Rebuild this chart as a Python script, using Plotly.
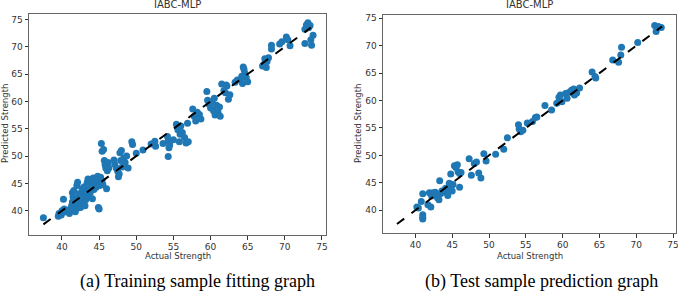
import plotly.graph_objects as go

W, H = 678, 292

# ---- data ----
train_actual = [37.5, 39.5, 39.6, 39.9, 40.0, 40.2, 40.3, 40.2, 40.7, 41.0, 41.1, 41.3, 41.4, 41.5, 41.4, 41.6,
                41.8, 41.9, 42.0, 42.0, 42.1, 42.2, 42.3,
                42.5, 42.6, 42.7, 42.8, 42.9, 43.0, 43.1, 43.2, 43.3, 43.4, 43.5, 43.6, 43.7, 43.8, 43.9, 44.0,
                44.1, 44.2, 44.3, 44.4, 44.5, 44.6, 44.8, 44.9, 45.0, 45.0, 45.1, 45.2, 45.4, 45.5,
                45.3, 45.4, 45.6, 45.7, 45.8, 45.9, 46.0, 46.1, 46.2, 46.3, 47.0, 47.1, 47.3, 47.5, 47.6, 47.7,
                47.8, 47.9, 48.0, 48.1, 48.3, 48.5, 48.7, 48.9, 49.4, 49.5, 50.0,
                50.9, 52.0, 52.5, 52.6, 53.6, 54.2, 54.3, 54.4, 54.3, 54.5, 55.0, 55.4, 55.6, 55.9, 56.0, 56.2,
                56.5, 56.7, 56.9, 57.0, 55.8, 57.6, 57.8, 58.0, 58.5, 58.7, 58.2,
                59.5, 59.6, 59.8, 60.0, 60.2, 60.4, 60.6, 60.8, 61.0, 61.2, 60.5, 61.3, 61.5, 61.8, 62.0, 62.2,
                62.4, 62.1, 62.6,
                63.3, 63.6, 64.0, 64.3, 64.4, 64.5, 64.6, 64.8, 65.0, 64.2, 67.0, 67.2, 67.5, 67.6, 67.8, 67.3,
                68.2, 68.2,
                69.3, 69.6, 70.2, 70.7, 70.4, 72.7, 72.9, 73.1, 73.2, 73.4, 72.7, 73.5, 73.6, 73.8]
train_pred = [38.7, 39.0, 39.5, 39.2, 40.0, 39.7, 40.3, 42.1, 39.9, 39.5, 40.3, 40.9, 41.6, 42.5, 43.3, 43.7,
              39.8, 41.0, 40.4, 44.6, 45.2, 42.2, 43.1,
              40.6, 41.7, 44.0, 42.5, 43.6, 44.4, 40.9, 42.0, 43.0, 45.2, 45.8, 42.5, 44.0, 43.3, 45.4, 44.8,
              42.2, 46.0, 43.9, 45.6, 45.0, 44.3, 46.3, 40.6, 40.3, 45.7, 44.6, 46.1, 45.5, 44.8,
              52.3, 50.9, 51.2, 49.2, 48.4, 47.8, 44.0, 47.3, 48.8, 47.8, 49.3, 48.5, 47.8, 47.2, 46.2, 46.7,
              50.6, 49.2, 51.0, 48.0, 49.6, 48.8, 50.0, 47.8, 52.6, 52.1, 50.5,
              51.1, 52.2, 52.7, 51.8, 52.3, 53.6, 52.7, 51.5, 49.9, 52.0, 53.0, 55.8, 54.8, 54.0, 55.5, 54.3,
              53.4, 52.4, 56.0, 52.6, 52.6, 58.6, 57.3, 56.4, 57.6, 56.8, 58.0,
              61.8, 60.2, 59.5, 58.8, 60.0, 58.3, 57.5, 59.3, 58.0, 59.0, 60.6, 57.3, 63.2, 62.0, 61.6, 62.8,
              60.4, 63.0, 61.2,
              63.5, 63.9, 64.0, 63.3, 66.3, 65.9, 65.2, 64.4, 63.6, 64.6, 66.5, 66.8, 66.2, 67.3, 68.0, 67.8,
              70.3, 69.6,
              70.5, 70.9, 71.8, 70.2, 71.3, 70.6, 74.0, 74.4, 73.5, 73.9, 73.2, 71.3, 70.3, 72.1]

test_actual = [40.2, 40.4, 40.8, 41.0, 41.0, 41.0, 41.0, 41.7, 42.1, 41.9, 42.2, 42.4, 42.7, 43.0, 43.2, 43.3,
               43.4, 43.6, 43.9, 44.1, 44.4, 44.6, 44.7, 44.8, 44.9, 45.0, 45.1, 45.3, 45.5, 45.7, 45.8, 46.0,
               46.0, 46.2, 47.3, 47.6, 48.0, 48.3, 48.6, 48.9, 49.3, 49.6, 50.9, 52.0, 52.5, 54.0, 54.1, 54.3,
               54.6, 55.2, 55.9, 56.3, 56.5, 57.6, 58.5, 59.2, 59.5, 59.7, 59.9, 60.4, 60.6, 60.9, 61.2, 61.6,
               61.9, 62.3, 61.5, 64.0, 64.4, 64.5, 66.8, 67.6, 67.9, 68.0, 70.2, 72.5, 72.7, 73.0, 73.4]
test_pred = [40.6, 40.4, 41.6, 43.0, 39.2, 38.7, 38.4, 41.0, 40.6, 43.2, 42.6, 43.2, 43.3, 42.3, 41.9, 45.4,
             43.0, 43.5, 43.3, 44.0, 42.7, 44.9, 43.8, 46.6, 44.5, 43.5, 44.7, 48.1, 47.8, 48.3, 47.0, 44.2,
             46.7, 46.9, 49.4, 46.4, 48.5, 48.8, 46.8, 45.9, 50.3, 49.0, 50.2, 51.1, 53.2, 55.6, 54.8, 54.3,
             54.6, 55.9, 56.2, 56.9, 57.0, 59.1, 58.3, 59.5, 60.6, 61.0, 59.8, 61.3, 60.4, 61.5, 61.9, 61.0,
             61.4, 62.3, 62.1, 65.2, 64.4, 64.1, 67.4, 67.0, 68.3, 69.7, 70.6, 73.7, 72.6, 73.5, 73.3]

line_ends = [37.5, 73.5]
tick_vals = [40, 45, 50, 55, 60, 65, 70, 75]
chart_title = "IABC-MLP"
x_label = "Actual Strength"
y_label = "Predicted Strength"
captions = ["(a) Training sample fitting graph", "(b) Test sample prediction graph"]

BLUE = "#1f77b4"
FONT = "DejaVu Sans"

fig = go.Figure()
fig.add_trace(go.Scatter(x=train_actual, y=train_pred, mode="markers",
                         marker=dict(color=BLUE, size=7, line=dict(width=0)),
                         xaxis="x", yaxis="y", showlegend=False))
fig.add_trace(go.Scatter(x=line_ends, y=line_ends, mode="lines",
                         line=dict(color="black", width=2, dash="dash"),
                         xaxis="x", yaxis="y", showlegend=False))
fig.add_trace(go.Scatter(x=test_actual, y=test_pred, mode="markers",
                         marker=dict(color=BLUE, size=7, line=dict(width=0)),
                         xaxis="x2", yaxis="y2", showlegend=False))
fig.add_trace(go.Scatter(x=line_ends, y=line_ends, mode="lines",
                         line=dict(color="black", width=2, dash="dash"),
                         xaxis="x2", yaxis="y2", showlegend=False))

def px(v):
    return v / W

def py(v):
    return 1 - v / H

axis_common = dict(showline=True, mirror=True, linecolor="#666666", linewidth=1,
                   showgrid=False, zeroline=False, ticks="outside", ticklen=3.5,
                   tickcolor="#333333", tickwidth=1, tickvals=tick_vals,
                   ticklabeloverflow="allow",
                   tickfont=dict(family=FONT, size=9, color="#333333"), automargin=False)

fig.update_layout(
    width=W, height=H,
    margin=dict(l=0, r=0, t=0, b=0),
    paper_bgcolor="white", plot_bgcolor="white",
    xaxis=dict(domain=[px(29), px(326)], range=[35.56, 75.54], anchor="y", **axis_common),
    yaxis=dict(domain=[py(235), py(14)], range=[35.55, 76.0], anchor="x", **axis_common),
    xaxis2=dict(domain=[px(383), px(676)], range=[35.6, 75.4], anchor="y2", **axis_common),
    yaxis2=dict(domain=[py(233), py(15)], range=[35.85, 75.6], anchor="x2", **axis_common),
)

ann = []
for cx, lx in [(177.5, 5), (529.5, 358)]:
    ann.append(dict(text=chart_title, x=px(cx), y=py(5), xref="paper", yref="paper",
                    showarrow=False, xanchor="center", yanchor="middle",
                    font=dict(family=FONT, size=10, color="#333333")))
    ann.append(dict(text=x_label, x=px(cx), y=py(256), xref="paper", yref="paper",
                    showarrow=False, xanchor="center", yanchor="middle",
                    font=dict(family=FONT, size=8.5, color="#333333")))
    ann.append(dict(text=y_label, x=px(lx), y=py(124), xref="paper", yref="paper",
                    showarrow=False, xanchor="center", yanchor="middle", textangle=-90,
                    font=dict(family=FONT, size=8.5, color="#333333")))
for cap, cx in zip(captions, [197, 541.5]):
    ann.append(dict(text=cap, x=px(cx), y=py(281.5), xref="paper", yref="paper",
                    showarrow=False, xanchor="center", yanchor="middle",
                    font=dict(family="Liberation Serif", size=18, color="black")))
fig.update_layout(annotations=ann)

fig.write_html("out.html",
               config={"displayModeBar": False, "responsive": False},
               post_script=("document.documentElement.style.overflow='hidden';"
                            "document.body.style.margin='0';document.body.style.padding='0';"
                            "document.body.style.overflow='hidden';"))
